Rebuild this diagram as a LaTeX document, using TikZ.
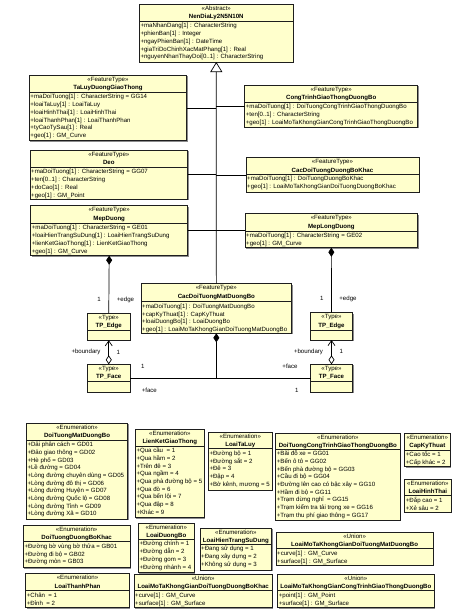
\documentclass[tikz,border=0pt]{standalone}
\usepackage{fontspec}
\setmainfont{Liberation Sans}
\usetikzlibrary{arrows.meta,shadows}
\definecolor{boxfill}{RGB}{255,255,204}
\definecolor{boxline}{RGB}{30,30,30}
\newcommand\fs{\fontsize{6.1}{7.7}\selectfont}
\tikzset{
  clsbox/.style={draw=boxline, fill=boxfill, line width=0.8pt, inner sep=0pt, outer sep=0pt, rectangle,
    drop shadow={shadow xshift=1pt, shadow yshift=-1pt, fill=black!45, opacity=1}},
  sepline/.style={draw=boxline, line width=0.8pt},
  txt/.style={inner sep=0pt, font=\fs},
  ttl/.style={inner sep=0pt, font=\fs\bfseries},
  conn/.style={draw=black, line width=0.7pt},
  gen/.style={conn, -{Triangle[open, length=10pt, width=12pt]}},
  comp/.style={conn, {Diamond[length=9pt, width=6pt]}-},
  agg/.style={conn, {Diamond[open, length=9pt, width=6pt]}-{Straight Barb[length=5pt, width=7pt]}},
  lbl/.style={inner sep=0pt, font=\fs},
}
\newcommand\umlbox[9]{%
  \node[clsbox, anchor=north west, minimum width={(#4-#2)*1pt}, minimum height={(#5-#3)*1pt}] (#1) at (#2,#3) {};
  \draw[sepline] (#2,#6) -- (#4,#6);
  \node[txt, anchor=base] at ({(#2+#4)/2},#3+6) {«#7»};
  \node[ttl, anchor=base] at ({(#2+#4)/2},#3+14.3) {#8};
  \foreach \myattr [count=\myi from 0] in {#9} {\node[txt, anchor=base west] at (#2+1,#6+6.6+7.7*\myi) {\myattr};}
}
\begin{document}
\begin{tikzpicture}[x=1pt,y=-1pt]
\useasboundingbox (0,0) rectangle (459,611);
% feature types
\umlbox{nendialy}{139.3}{4}{293.3}{62}{21.3}{Abstract}{NenDiaLy2N5N10N}{+maNhanDang[1] : CharacterString,+phienBan[1] : Integer,+ngayPhienBan[1] : DateTime,+giaTriDoChinhXacMatPhang[1] : Real,+nguyenNhanThayDoi[0..1] : CharacterString}
\umlbox{taluy}{29.3}{75.3}{186.7}{140.7}{92.3}{FeatureType}{TaLuyDuongGiaoThong}{+maDoiTuong[1] : CharacterString = GG14,+loaiTaLuy[1] : LoaiTaLuy,+loaiHinhThai[1] : LoaiHinhThai,+loaiThanhPhan[1] : LoaiThanhPhan,+tyCaoTySau[1] : Real,+geo[1] : GM\_Curve}
\umlbox{deo}{30}{150}{187.7}{199.3}{167.3}{FeatureType}{Deo}{+maDoiTuong[1] : CharacterString = GG07,+ten[0..1] : CharacterString,+doCao[1] : Real,+geo[1] : GM\_Point}
\umlbox{mepduong}{30.7}{205.7}{187.7}{255.7}{223.3}{FeatureType}{MepDuong}{+maDoiTuong[1] : CharacterString = GE01,+loaiHienTrangSuDung[1] : LoaiHienTrangSuDung,+lienKetGiaoThong[1] : LienKetGiaoThong,+geo[1] : GM\_Curve}
\umlbox{congtrinh}{244.7}{85.3}{417.7}{127.3}{102.3}{FeatureType}{CongTrinhGiaoThongDuongBo}{+maDoiTuong[1] : DoiTuongCongTrinhGiaoThongDuongBo,+ten[0..1] : CharacterString,+geo[1] : LoaiMoTaKhongGianCongTrinhGiaoThongDuongBo}
\umlbox{dbkhac}{246}{157.7}{419}{192}{174.3}{FeatureType}{CacDoiTuongDuongBoKhac}{+maDoiTuong[1] : DoiTuongDuongBoKhac,+geo[1] : LoaiMoTaKhongGianDoiTuongDuongBoKhac}
\umlbox{meplong}{245}{213.7}{417.7}{247.7}{231}{FeatureType}{MepLongDuong}{+maDoiTuong[1] : CharacterString = GE02,+geo[1] : GM\_Curve}
\umlbox{cdmdb}{141}{283.7}{291.7}{333.3}{301.7}{FeatureType}{CacDoiTuongMatDuongBo}{+maDoiTuong[1] : DoiTuongMatDuongBo,+capKyThuat[1] : CapKyThuat,+loaiDuongBo[1] : LoaiDuongBo,+geo[1] : LoaiMoTaKhongGianDoiTuongMatDuongBo}
\umlbox{edgeL}{87.5}{313}{130}{340.3}{330.3}{Type}{TP\_Edge}{}
\umlbox{faceL}{87.5}{364.3}{130}{392.3}{381.7}{Type}{TP\_Face}{}
\umlbox{edgeR}{310.5}{312.7}{352.5}{340}{330}{Type}{TP\_Edge}{}
\umlbox{faceR}{310.5}{364.3}{352.5}{392.3}{381.7}{Type}{TP\_Face}{}
% enumerations
\umlbox{edtmdb}{26.3}{423}{127.7}{519.3}{440}{Enumeration}{DoiTuongMatDuongBo}{+Dải phân cách = GD01,+Đảo giao thông = GD02,+Hè phố = GD03,+Lề đường = GD04,+Lòng đường chuyên dùng = GD05,+Lòng đường đô thị = GD06,+Lòng đường Huyện = GD07,+Lòng đường Quốc lộ = GD08,+Lòng đường Tỉnh = GD09,+Lòng đường Xã = GD10}
\umlbox{lkgt}{135.3}{429.3}{204.3}{517.7}{446}{Enumeration}{LienKetGiaoThong}{+Qua cầu~ = 1,+Qua hầm = 2,+Trên đê = 3,+Qua ngầm = 4,+Qua phà đường bộ = 5,+Qua đò = 6,+Qua bến lội = 7,+Qua đập = 8,+Khác = 9}
\umlbox{loaitaluy}{208.3}{432.3}{272.3}{490}{448.7}{Enumeration}{LoaiTaLuy}{+Đường bộ = 1,+Đường sắt = 2,+Đê = 3,+Đập = 4,{+Bờ kênh, mương = 5}}
\umlbox{dtct}{275.7}{433}{400}{520}{449}{Enumeration}{DoiTuongCongTrinhGiaoThongDuongBo}{+Bãi đỗ xe = GG01,+Bến ô tô = GG02,+Bến phà đường bộ = GG03,+Cầu đi bộ = GG04,+Đường lên cao có bậc xây = GG10,+Hầm đi bộ = GG11,+Trạm dừng nghỉ~ = GG15,+Trạm kiểm tra tải trọng xe = GG16,+Trạm thu phí giao thông = GG17}
\umlbox{capkt}{404.7}{433}{450}{466.7}{450}{Enumeration}{CapKyThuat}{+Cao tốc = 1,+Cấp khác = 2}
\umlbox{lht}{404.7}{479}{451}{512.3}{495.7}{Enumeration}{LoaiHinhThai}{+Đắp cao = 1,+Xẻ sâu = 2}
\umlbox{dtdbk}{23.3}{525.3}{130}{567.7}{541.7}{Enumeration}{DoiTuongDuongBoKhac}{+Đường bờ vùng bờ thửa = GB01,+Đường đi bộ = GB02,+Đường mòn = GB03}
\umlbox{ldb}{138.3}{523}{194.3}{572.7}{539.3}{Enumeration}{LoaiDuongBo}{+Đường chính = 1,+Đường dẫn = 2,+Đường gom = 3,+Đường nhánh = 4}
\umlbox{lhtsd}{200}{528.3}{271.7}{570}{544.3}{Enumeration}{LoaiHienTrangSuDung}{+Đang sử dụng = 1,+Đang xây dựng = 2,+Không sử dụng = 3}
\umlbox{umdb}{276}{532}{433.3}{565}{548.7}{Union}{LoaiMoTaKhongGianDoiTuongMatDuongBo}{+curve[1] : GM\_Curve,+surface[1] : GM\_Surface}
\umlbox{ltp}{25.7}{573.7}{129.3}{607.7}{590.7}{Enumeration}{LoaiThanhPhan}{+Chân~ = 1,+Đỉnh~ = 2}
\umlbox{udbk}{134}{574.3}{272.3}{607.7}{590.7}{Union}{LoaiMoTaKhongGianDoiTuongDuongBoKhac}{+curve[1] : GM\_Curve,+surface[1] : GM\_Surface}
\umlbox{uct}{277.7}{574.3}{434}{607.7}{590.7}{Union}{LoaiMoTaKhongGianCongTrinhGiaoThongDuongBo}{+point[1] : GM\_Point,+surface[1] : GM\_Surface}
% generalization
\draw[gen] (cdmdb.north) -- (nendialy.south);
\draw[conn] (taluy.east) -- (taluy.east -| cdmdb.north);
\draw[conn] (deo.east) -- (deo.east -| cdmdb.north);
\draw[conn] (congtrinh.west) -- (congtrinh.west -| cdmdb.north);
\draw[conn] (dbkhac.west) -- (dbkhac.west -| cdmdb.north);
\draw[conn] (mepduong.east) -- (meplong.west);
% compositions
\draw[comp] (mepduong.south) -- (edgeL.north);
\draw[comp] (meplong.south) -- (edgeR.north);
\draw[agg] (faceL.north) -- (edgeL.south);
\draw[agg] (faceR.north) -- (edgeR.south);
\coordinate (facejoin) at (cdmdb.south |- faceL.east);
\draw[comp] (cdmdb.south) -- (facejoin);
\draw[conn] (faceL.east) -- (faceR.west);
% labels
\node[lbl] (m1) at (99,299.7) {1};
\node[lbl] (r1) at (125.5,299.7) {+edge};
\node[lbl] (m2) at (321.7,298.7) {1};
\node[lbl] (r2) at (348,298.7) {+edge};
\node[lbl] (r3) at (86,352.3) {+boundary};
\node[lbl] (m3) at (118.3,352.3) {1};
\node[lbl] (r4) at (308.5,351.7) {+boundary};
\node[lbl] (m4) at (341.3,351.7) {1};
\node[lbl] (m5) at (142.7,366.7) {1};
\node[lbl] (r5) at (149.3,390) {+face};
\node[lbl] (r6) at (290,366.7) {+face};
\node[lbl] (m6) at (296.7,390) {1};
\end{tikzpicture}
\end{document}
